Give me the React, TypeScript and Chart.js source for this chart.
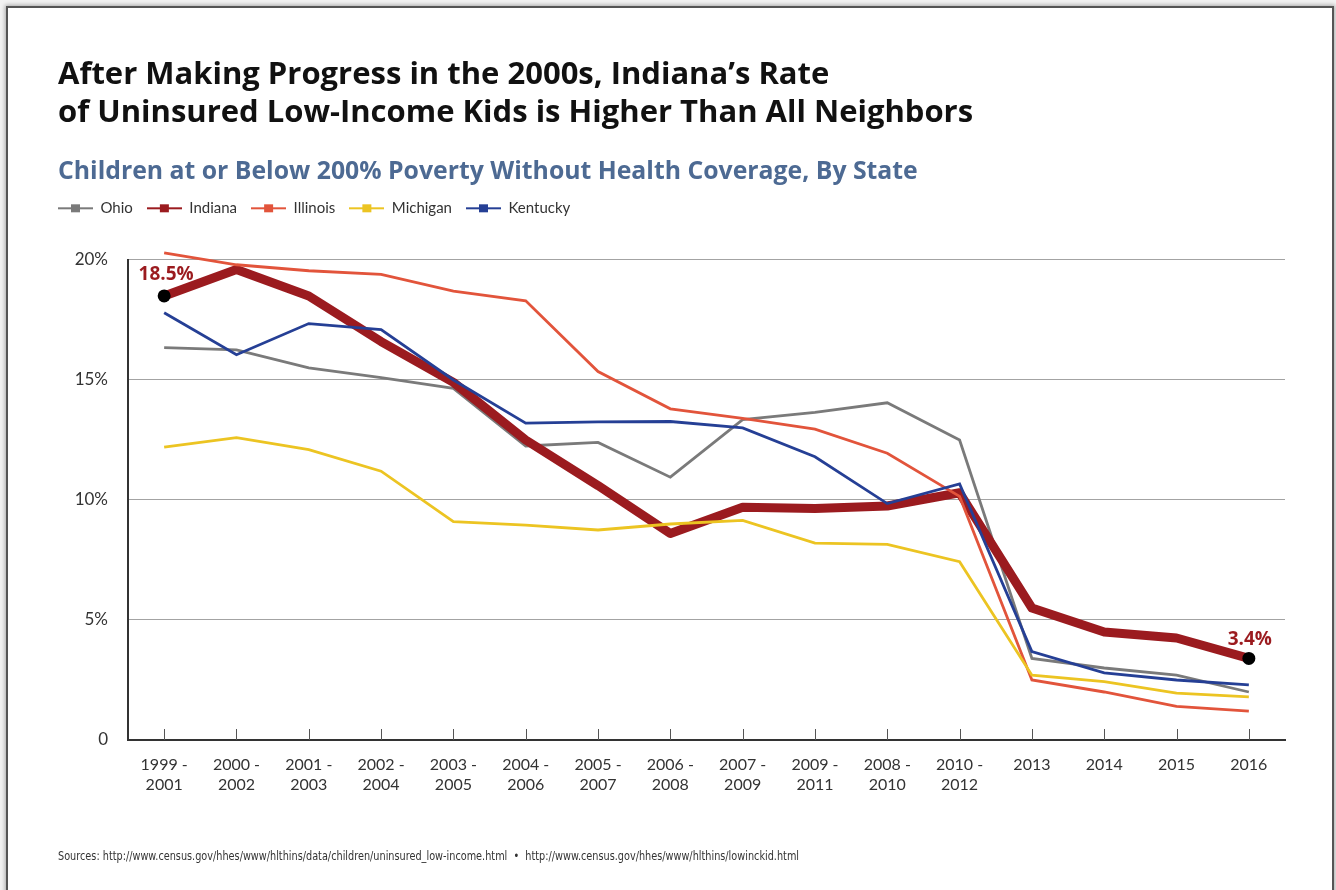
import React, { useEffect, useRef } from 'react';
import { Chart, registerables, layouts } from 'chart.js';

Chart.register(...registerables);

// ---------- data ----------
const categories: (string | string[])[] = [
  ['1999 -', '2001'], ['2000 -', '2002'], ['2001 -', '2003'], ['2002 -', '2004'],
  ['2003 -', '2005'], ['2004 -', '2006'], ['2005 -', '2007'], ['2006 -', '2008'],
  ['2007 -', '2009'], ['2009 -', '2011'], ['2008 -', '2010'], ['2010 -', '2012'],
  '2013', '2014', '2015', '2016',
];

const ohio = [16.35, 16.25, 15.5, 15.1, 14.65, 12.25, 12.4, 10.95, 13.35, 13.65, 14.05, 12.5, 3.4, 3.0, 2.7, 2.0];
const indiana = [18.5, 19.6, 18.5, 16.6, 14.9, 12.5, 10.6, 8.6, 9.7, 9.65, 9.75, 10.3, 5.5, 4.5, 4.25, 3.4];
const illinois = [20.3, 19.8, 19.55, 19.4, 18.7, 18.3, 15.35, 13.8, 13.4, 12.95, 11.95, 10.15, 2.5, 2.0, 1.4, 1.2];
const michigan = [12.2, 12.6, 12.1, 11.2, 9.1, 8.95, 8.75, 9.0, 9.15, 8.2, 8.15, 7.43, 2.7, 2.43, 1.95, 1.8];
const kentucky = [17.8, 16.05, 17.35, 17.1, 15.0, 13.2, 13.25, 13.27, 13.0, 11.8, 9.85, 10.67, 3.68, 2.8, 2.5, 2.3];

const seriesNames = ['Ohio', 'Indiana', 'Illinois', 'Michigan', 'Kentucky'];
const seriesColors = ['#7a7a7a', '#9b1b1f', '#e2543b', '#ecc422', '#253f95'];

const yMin = 0;
const yMax = 20;
const yStep = 5;

const titleLines = [
  'After Making Progress in the 2000s, Indiana\u2019s Rate',
  'of Uninsured Low-Income Kids is Higher Than All Neighbors',
];
const subtitleText = 'Children at or Below 200% Poverty Without Health Coverage, By State';
const sourcesText =
  'Sources: http://www.census.gov/hhes/www/hlthins/data/children/uninsured_low-income.html  \u2022  http://www.census.gov/hhes/www/hlthins/lowinckid.html';

// ---------- styling ----------
const FONT = 'Lato, "Open Sans", "DejaVu Sans", sans-serif';
const HEAD_FONT = '"Open Sans", Lato, sans-serif';
const LEGEND_PAD = 14;
const SPACER = 34.2;

function markerCanvas(color: string) {
  const c = document.createElement('canvas');
  c.width = 35;
  c.height = 10;
  const g = c.getContext('2d')!;
  g.strokeStyle = color;
  g.lineWidth = 2;
  g.beginPath();
  g.moveTo(0, 5);
  g.lineTo(35, 5);
  g.stroke();
  g.fillStyle = color;
  g.fillRect(13, 1, 9, 8);
  return c;
}

const spacerPlugin = {
  id: 'legendSpacer',
  beforeInit(chart: any) {
    const box: any = {
      position: 'top',
      weight: 0,
      fullSize: true,
      options: {},
      left: 0, top: 0, right: 0, bottom: 0, width: 0, height: 0,
      isHorizontal: () => true,
      update(maxWidth: number) {
        box.width = maxWidth;
        box.height = SPACER;
        return {};
      },
      getPadding: () => ({ left: 0, top: 0, right: 0, bottom: 0 }),
      draw() {},
    };
    layouts.addBox(chart, box);
  },
};

const legendShift = {
  id: 'legendShift',
  afterLayout(chart: any) {
    const l = chart.legend;
    if (l) {
      l.left -= LEGEND_PAD;
      l.right -= LEGEND_PAD;
    }
  },
};

const innerTicks = {
  id: 'innerTicks',
  beforeDatasetsDraw(chart: any) {
    const xs = chart.scales.x;
    const ctx = chart.ctx;
    const b = chart.chartArea.bottom;
    ctx.save();
    ctx.strokeStyle = '#555';
    ctx.lineWidth = 1;
    for (let i = 0; i < categories.length; i++) {
      const x = Math.round(xs.getPixelForTick(i)) + 0.5;
      ctx.beginPath();
      ctx.moveTo(x, b - 11);
      ctx.lineTo(x, b);
      ctx.stroke();
    }
    ctx.restore();
  },
};

const endLabels = {
  id: 'endLabels',
  afterDatasetsDraw(chart: any) {
    const meta = chart.getDatasetMeta(1);
    const ctx = chart.ctx;
    const last = indiana.length - 1;
    const items: [number, number, number][] = [
      [0, 2, -21],
      [last, 1, -19],
    ];
    ctx.save();
    ctx.font = `bold 19px ${HEAD_FONT}`;
    ctx.fillStyle = '#9b1b1f';
    ctx.textAlign = 'center';
    ctx.textBaseline = 'middle';
    for (const [i, dx, dy] of items) {
      const pt = meta.data[i];
      if (!pt) continue;
      ctx.fillText(`${indiana[i]}%`, pt.x + dx, pt.y + dy);
    }
    ctx.restore();
  },
};

export default function App() {
  const ref = useRef<HTMLCanvasElement | null>(null);

  useEffect(() => {
    if (!ref.current) return;
    Chart.defaults.font.family = FONT;
    const values = [ohio, indiana, illinois, michigan, kentucky];
    const orders = [5, 4, 3, 2, 1];
    const datasets = values.map((data, i) => {
      const isIndiana = seriesNames[i] === 'Indiana';
      return {
        label: seriesNames[i],
        data,
        borderColor: seriesColors[i],
        backgroundColor: seriesColors[i],
        borderWidth: isIndiana ? 9 : 2.8,
        borderJoinStyle: isIndiana ? 'round' : 'miter',
        borderCapStyle: 'butt',
        tension: 0,
        clip: false,
        order: orders[i],
        pointRadius: isIndiana
          ? (c: any) => (c.dataIndex === 0 || c.dataIndex === data.length - 1 ? 6.5 : 0)
          : 0,
        pointHoverRadius: 0,
        pointBackgroundColor: '#000',
        pointBorderColor: '#000',
        pointBorderWidth: 0,
      };
    });

    const chart = new Chart(ref.current, {
      type: 'line',
      data: { labels: categories as any, datasets: datasets as any },
      options: {
        responsive: false,
        animation: false,
        events: [],
        layout: { padding: { left: 58, right: 51, top: 56, bottom: 90 } },
        plugins: {
          tooltip: { enabled: false },
          title: {
            display: true,
            text: titleLines,
            align: 'start',
            color: '#111',
            font: { family: HEAD_FONT, size: 31, weight: 'bold', lineHeight: 38 / 31 },
            padding: { top: 0, bottom: 0 },
          },
          subtitle: {
            display: true,
            text: subtitleText,
            align: 'start',
            color: '#4d6a93',
            font: { family: HEAD_FONT, size: 24.8, weight: 'bold', lineHeight: 1.2 },
            padding: { top: 25, bottom: 0 },
          },
          legend: {
            display: true,
            position: 'top',
            align: 'start',
            labels: {
              usePointStyle: true,
              pointStyleWidth: 35,
              padding: LEGEND_PAD,
              color: '#333',
              font: { size: 15 },
              generateLabels: (ch: any) =>
                ch.data.datasets.map((ds: any, i: number) => ({
                  text: ds.label,
                  fillStyle: ds.borderColor,
                  strokeStyle: ds.borderColor,
                  lineWidth: 0,
                  pointStyle: markerCanvas(ds.borderColor),
                  datasetIndex: i,
                  hidden: false,
                  fontColor: '#333',
                })),
            },
          },
        },
        scales: {
          x: {
            type: 'category',
            offset: true,
            afterFit: (s: any) => {
              s.height = 60;
            },
            grid: { display: false, drawTicks: false },
            border: { display: true, color: '#333', width: 2 },
            ticks: {
              autoSkip: false,
              maxRotation: 0,
              minRotation: 0,
              padding: 14,
              color: '#333',
              font: { size: 16, lineHeight: 1.3 },
            },
          },
          y: {
            min: yMin,
            max: yMax,
            afterFit: (s: any) => {
              s.width = 70;
            },
            grid: { color: '#a3a3a3', lineWidth: 1, drawTicks: false },
            border: { display: true, color: '#333', width: 2 },
            ticks: {
              stepSize: yStep,
              padding: 20,
              color: '#333',
              font: { size: 17 },
              callback: (v: any) => (Number(v) === 0 ? '0' : `${v}%`),
            },
          },
        },
      },
      plugins: [spacerPlugin as any, legendShift as any, innerTicks as any, endLabels as any],
    });
    return () => chart.destroy();
  }, []);

  return (
    <div
      style={{
        position: 'fixed',
        left: 0,
        top: 0,
        width: 1336,
        height: 890,
        overflow: 'hidden',
        background: '#f2f2f2',
      }}
    >
      <div
        style={{
          position: 'absolute',
          left: 6,
          top: 6,
          width: 1328,
          height: 910,
          boxSizing: 'border-box',
          border: '2px solid #555',
          background: '#fff',
          boxShadow: '0 0 4px 1px rgba(0,0,0,0.3)',
        }}
      />
      <canvas
        ref={ref}
        width={1336}
        height={890}
        style={{ position: 'absolute', left: 0, top: 0, width: 1336, height: 890 }}
      />
      <div
        style={{
          position: 'absolute',
          left: 58,
          top: 848,
          fontFamily: '"Liberation Sans Narrow", "DejaVu Sans Condensed", "Open Sans", sans-serif',
          fontSize: 13,
          color: '#333',
          whiteSpace: 'pre',
          transform: 'scaleX(0.83)',
          transformOrigin: '0 0',
        }}
      >
        {sourcesText}
      </div>
    </div>
  );
}
